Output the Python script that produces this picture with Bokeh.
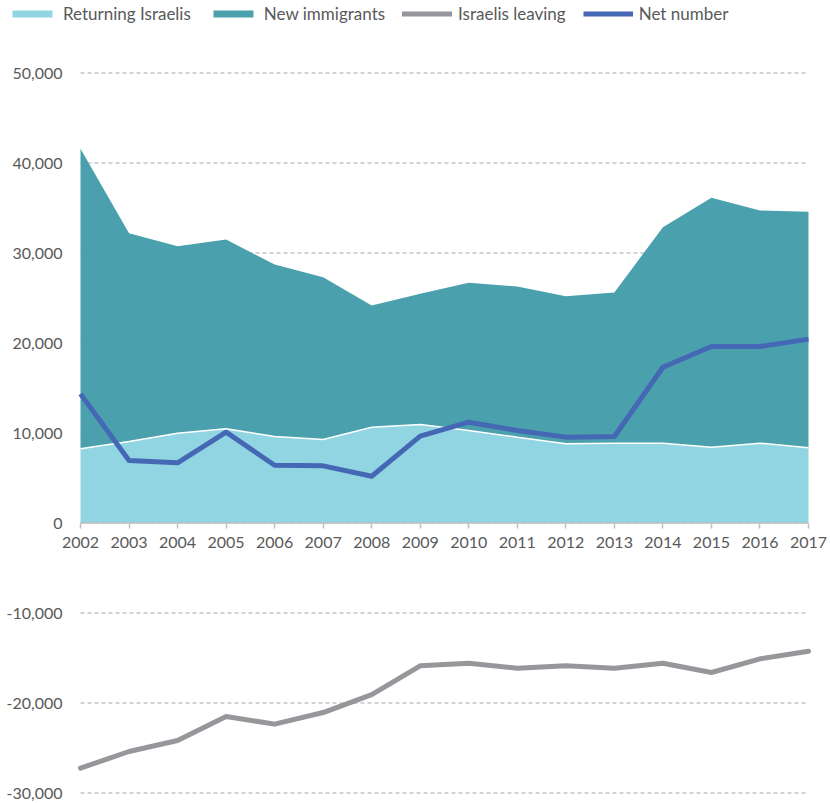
import numpy as np
from bokeh.plotting import figure
from bokeh.models import Range1d, FixedTicker, NumeralTickFormatter, Legend, LegendItem
from bokeh.embed import file_html
from bokeh.resources import INLINE

years = [2002, 2003, 2004, 2005, 2006, 2007, 2008, 2009, 2010, 2011, 2012, 2013, 2014, 2015, 2016, 2017]
returning = [8240, 9060, 9980, 10460, 9610, 9280, 10650, 10940, 10280, 9540, 8800, 8870, 8870, 8420, 8870, 8350]
new_immigrants = [33340, 23140, 20780, 21040, 19110, 18030, 13520, 14530, 16410, 16740, 16400, 16740, 24000, 27710, 25850, 26230]
leaving = [-27240, -25390, -24170, -21500, -22350, -21060, -19060, -15870, -15580, -16130, -15870, -16130, -15580, -16610, -15090, -14240]
net = [14350, 6940, 6690, 10090, 6420, 6350, 5200, 9650, 11200, 10280, 9540, 9610, 17310, 19610, 19610, 20430]
y_ticks = [-30000, -20000, -10000, 0, 10000, 20000, 30000, 40000, 50000]
labels = ["Returning Israelis", "New immigrants", "Israelis leaving", "Net number"]

FONT = "Lato"
TXT = "#595959"
GRID = "#A6A6A6"
AXIS = "#BFBFBF"
C_RET = "#92D5E2"
C_NEW = "#4AA1AD"
C_LEAVE = "#97979B"
C_NET = "#4568B5"

W, H = 830, 803
PLOT_L, PLOT_R = 80, 808          # pixel span of the years axis
ZERO_PX, PX_PER_10K = 522.5, 90.0  # pixel of y=0 and scale

yr_per_px = (years[-1] - years[0]) / (PLOT_R - PLOT_L)
x_range = Range1d(years[0] - PLOT_L * yr_per_px, years[-1] + (W - PLOT_R) * yr_per_px)
y_range = Range1d(-(H - ZERO_PX) / PX_PER_10K * 10000, ZERO_PX / PX_PER_10K * 10000)

p = figure(width=W, height=H, output_backend="svg", toolbar_location=None,
           x_range=x_range, y_range=y_range,
           min_border_left=0, min_border_right=0, min_border_top=0, min_border_bottom=0)
p.outline_line_color = None
p.background_fill_color = "white"
p.border_fill_color = "white"
p.grid.visible = False

# dashed gridlines spanning the data years only
p.segment(x0=[years[0]] * len(y_ticks), x1=[years[-1]] * len(y_ticks), y0=y_ticks, y1=y_ticks,
          line_color=GRID, line_dash="4 3", line_width=1)

ret = np.array(returning)
top = ret + np.array(new_immigrants)
zeros = np.zeros(len(years))

r1 = p.varea(x=years, y1=zeros, y2=ret, fill_color=C_RET)
r2 = p.varea(x=years, y1=ret, y2=top, fill_color=C_NEW)
p.line(years, ret, line_color="white", line_width=1.5)

# zero axis line across the data years
p.segment(x0=[years[0]], x1=[years[-1]], y0=[0], y1=[0], line_color=AXIS, line_width=1.5)

r3 = p.line(years, leaving, line_color=C_LEAVE, line_width=5, line_join="round", line_cap="round")
r4 = p.line(years, net, line_color=C_NET, line_width=5, line_join="round")

xa = p.xaxis[0]
xa.fixed_location = 0
xa.ticker = FixedTicker(ticks=years)
xa.axis_line_color = None
xa.major_tick_in = 0
xa.major_tick_out = 5
xa.minor_tick_line_color = None
xa.major_tick_line_color = AXIS
xa.major_tick_line_width = 1.5
xa.major_label_text_font = FONT
xa.major_label_text_font_size = "16px"
xa.major_label_text_color = TXT
xa.major_label_standoff = 9

ya = p.yaxis[0]
ya.fixed_location = years[0]
ya.ticker = FixedTicker(ticks=y_ticks)
ya.formatter = NumeralTickFormatter(format="0,0")
ya.axis_line_color = None
ya.major_tick_line_color = None
ya.major_tick_out = 0
ya.major_tick_in = 0
ya.minor_tick_line_color = None
ya.major_label_text_font = FONT
ya.major_label_text_font_size = "16px"
ya.major_label_text_color = TXT
ya.major_label_standoff = 18

legend = Legend(items=[LegendItem(label=labels[0], renderers=[r1]),
                       LegendItem(label=labels[1], renderers=[r2]),
                       LegendItem(label=labels[2], renderers=[r3]),
                       LegendItem(label=labels[3], renderers=[r4])],
                orientation="horizontal", location=(7, 779),
                glyph_width=50, glyph_height=9, label_standoff=6, spacing=17,
                padding=0, margin=0, label_height=20,
                label_text_font=FONT, label_text_font_size="17px", label_text_color=TXT,
                background_fill_alpha=0, border_line_color=None)
p.add_layout(legend, "center")

open("out.html", "w").write(file_html(p, INLINE))
